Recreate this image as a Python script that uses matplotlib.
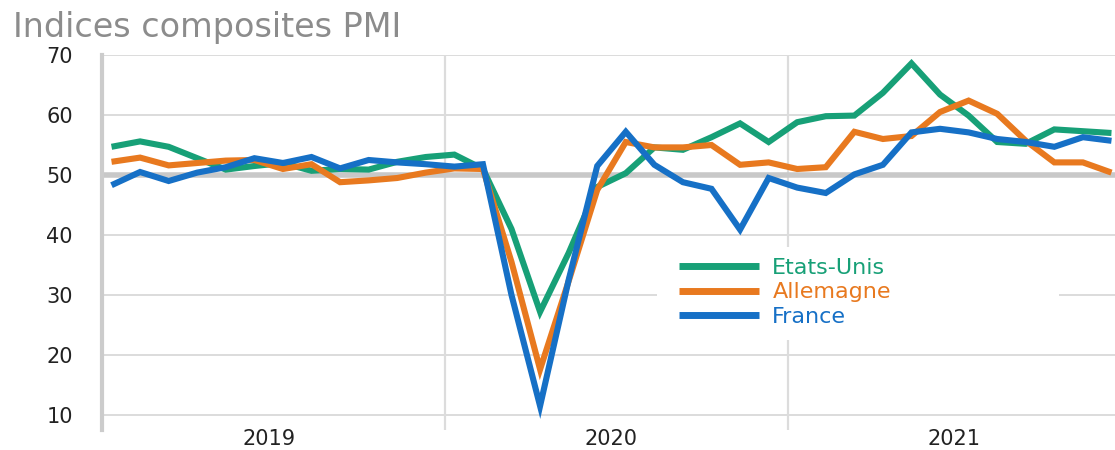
import matplotlib
matplotlib.use("Agg")
import matplotlib.pyplot as plt
from matplotlib.patches import Rectangle
import numpy as np

# Composite PMI, monthly, Jan 2019 - Dec 2021
years = ["2019", "2020", "2021"]
etats_unis = [54.7, 55.6, 54.7, 52.8, 50.9, 51.5, 52.0, 50.7, 51.0, 50.9, 52.2, 53.0,
              53.4, 51.0, 41.0, 27.2, 37.0, 48.0, 50.3, 54.6, 54.2, 56.3, 58.6, 55.5,
              58.8, 59.8, 59.9, 63.7, 68.6, 63.4, 59.9, 55.5, 55.2, 57.6, 57.3, 57.0]
allemagne = [52.2, 52.9, 51.6, 52.0, 52.4, 52.5, 51.0, 51.8, 48.8, 49.1, 49.5, 50.4,
             51.1, 51.0, 35.5, 17.6, 32.3, 47.5, 55.5, 54.6, 54.6, 55.0, 51.7, 52.1,
             51.0, 51.3, 57.2, 56.0, 56.5, 60.5, 62.4, 60.2, 55.7, 52.1, 52.1, 50.4]
france = [48.3, 50.5, 49.0, 50.4, 51.3, 52.8, 52.0, 53.0, 51.1, 52.5, 52.1, 51.8,
          51.4, 51.8, 30.0, 11.5, 32.5, 51.5, 57.2, 51.7, 48.8, 47.7, 40.9, 49.5,
          47.9, 47.0, 50.1, 51.7, 57.1, 57.7, 57.1, 56.0, 55.5, 54.7, 56.3, 55.7]
series_names = ["Etats-Unis", "Allemagne", "France"]
colors = ["#17a077", "#e8791f", "#1670c6"]
yticks = [10, 20, 30, 40, 50, 60, 70]

W, H = 1115, 450
fig = plt.figure(figsize=(W / 100, H / 100), dpi=100)
ax = fig.add_axes([102 / W, 1 - 430 / H, 1 - 102 / W, (430 - 55) / H])

x = np.arange(len(etats_unis))
offset = 1 / 3  # year boundaries sit a third of a month before January's point
ax.set_xlim(-offset, -offset + (W - 102) / 28.57)
ax.set_ylim(7.5, 70)

grid_c = "#dcdcdc"
for v in yticks:
    if v == 50:
        ax.axhline(v, color="#c8c8c8", lw=4.0, zorder=1.5)
    else:
        ax.axhline(v, color=grid_c, lw=1.4, zorder=1)
for k in range(1, len(years)):
    ax.axvline(12 * k - offset, color=grid_c, lw=1.6, zorder=1)
ax.axvline(-offset, color="#cccccc", lw=3.0, zorder=1.6, clip_on=False)

# white panel behind the legend, hiding the grid there
ax.add_patch(Rectangle((657 / W, 1 - 340 / H), (1059 - 657) / W, 93 / H,
                       transform=fig.transFigure, facecolor="white",
                       edgecolor="none", zorder=1.8))

for vals, name, c in zip([etats_unis, allemagne, france], series_names, colors):
    ax.plot(x, vals, color=c, lw=4.4, label=name, zorder=3,
            solid_joinstyle="miter", solid_capstyle="butt")

for spine in ax.spines.values():
    spine.set_visible(False)
ax.set_yticks(yticks)
ax.set_yticklabels([str(v) for v in yticks], fontsize=15, color="#222222")
ax.tick_params(axis="y", length=0, pad=21)
ax.set_xticks([])

for k, yr in enumerate(years):
    fig.text((102 + 28.57 * (12 * k + 5.5 + offset)) / W, 1 - 445 / H, yr,
             ha="center", va="baseline", fontsize=15, color="#222222")

fig.text(13 / W, 1 - 37 / H, "Indices composites PMI", fontsize=24,
         color="#8c8c8c", ha="left", va="baseline")

leg = ax.legend(loc="upper left", bbox_to_anchor=(679 / W, 1 - 258 / H),
                bbox_transform=fig.transFigure, frameon=False, fontsize=16,
                handlelength=3.6, handletextpad=0.6, labelspacing=0.2,
                borderpad=0, borderaxespad=0, labelcolor="linecolor")
leg.set_zorder(5)
for h in leg.get_lines():
    h.set_linewidth(5.0)

fig.savefig("out.png", dpi=100)
